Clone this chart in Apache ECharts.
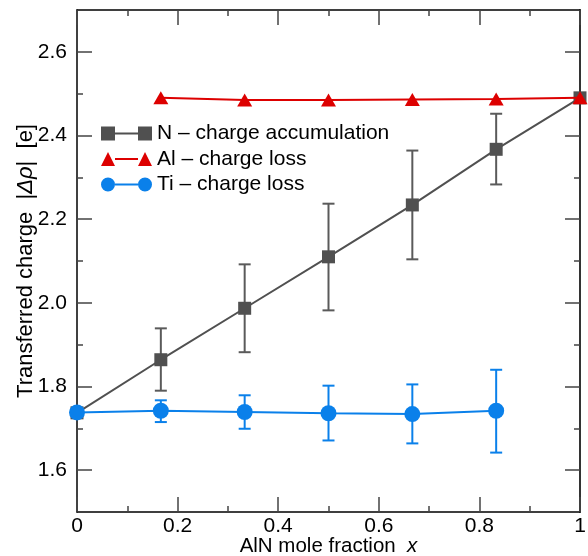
<!DOCTYPE html>
<html>
<head>
<meta charset="utf-8">
<script src="https://cdn.jsdelivr.net/npm/echarts@6/dist/echarts.min.js"></script>
<style>
  html, body { margin: 0; padding: 0; background: #fff; }
  #chart { width: 588px; height: 556px; }
</style>
</head>
<body>
<div id="chart"></div>
<script>
// AlN mole fraction x in Ti(1-x)Al(x)N
const fraction = [0, 1/6, 2/6, 3/6, 4/6, 5/6, 1];

// N - charge accumulation
const nCharge  = [1.737, 1.864, 1.987, 2.110, 2.234, 2.367, 2.490];
const nErrLow  = [null, 1.790, 1.882, 1.982, 2.104, 2.283, null];
const nErrHigh = [null, 1.939, 2.092, 2.237, 2.364, 2.452, null];

// Al - charge loss
const alCharge = [null, 2.490, 2.485, 2.485, 2.486, 2.487, 2.490];

// Ti - charge loss
const tiCharge  = [1.738, 1.742, 1.739, 1.736, 1.734, 1.742, null];
const tiErrLow  = [null, 1.715, 1.699, 1.671, 1.664, 1.642, null];
const tiErrHigh = [null, 1.767, 1.779, 1.802, 1.805, 1.840, null];

// Axis ticks
const xTickLabels = ['0', '0.2', '0.4', '0.6', '0.8', '1'];
const yMajor = [1.6, 1.8, 2.0, 2.2, 2.4, 2.6];
const yMinor = [1.7, 1.9, 2.1, 2.3, 2.5];

const FONT = "'Liberation Sans', Arial, Helvetica, sans-serif";
const C_N = '#505050', C_AL = '#dd0000', C_TI = '#0a80ea';

function pairs(ys) {
  const out = [];
  ys.forEach((y, i) => { if (y !== null) out.push([fraction[i], y]); });
  return out;
}
function errs(lo, hi) {
  const out = [];
  lo.forEach((l, i) => { if (l !== null && hi[i] !== null) out.push([fraction[i], l, hi[i]]); });
  return out;
}
function errorBars(color) {
  return function (params, api) {
    const x = api.value(0);
    const lo = api.coord([x, api.value(1)]);
    const hi = api.coord([x, api.value(2)]);
    const hw = 6;
    const style = { stroke: color, lineWidth: 2, fill: null };
    return {
      type: 'group',
      children: [
        { type: 'line', shape: { x1: lo[0], y1: lo[1], x2: hi[0], y2: hi[1] }, style },
        { type: 'line', shape: { x1: lo[0] - hw, y1: lo[1], x2: lo[0] + hw, y2: lo[1] }, style },
        { type: 'line', shape: { x1: hi[0] - hw, y1: hi[1], x2: hi[0] + hw, y2: hi[1] }, style }
      ]
    };
  };
}

const tickStyle = { color: '#444', width: 1.5 };
const chart = echarts.init(document.getElementById('chart'));

chart.setOption({
  animation: false,
  backgroundColor: '#fff',
  textStyle: { fontFamily: FONT },
  grid: { left: 77, right: 8, top: 10, bottom: 44, containLabel: false, outerBoundsMode: 'none' },
  legend: {
    orient: 'vertical',
    left: 101,
    top: 123,
    padding: 0,
    itemWidth: 51,
    itemHeight: 14,
    itemGap: 4.5,
    textStyle: { fontFamily: FONT, fontSize: 21, color: '#000' },
    data: [
      { name: 'N – charge accumulation',
        icon: 'path://M0,0h14v14h-14z M14,6h23v2h-23z M37,0h14v14h-14z' },
      { name: 'Al – charge loss',
        icon: 'path://M0,14L7,0L14,14z M14,6h23v2h-23z M37,14L44,0L51,14z' },
      { name: 'Ti – charge loss',
        icon: 'path://M0,7a7,7 0 1,0 14,0a7,7 0 1,0 -14,0z M14,6h23v2h-23z M37,7a7,7 0 1,0 14,0a7,7 0 1,0 -14,0z' }
    ]
  },
  xAxis: [
    {
      type: 'value', position: 'bottom', min: 0, max: 1, interval: 0.2,
      axisLine: { show: true, lineStyle: { color: '#000', width: 1.5 } },
      axisTick: { show: true, inside: true, length: 15, lineStyle: tickStyle },
      minorTick: { show: true, splitNumber: 2, length: 6, lineStyle: tickStyle },
      splitLine: { show: false },
      axisLabel: {
        fontSize: 21, color: '#000', margin: 4, fontFamily: FONT,
        formatter: (v, i) => xTickLabels[i]
      },
      name: '{n|AlN mole fraction  }{i|x}',
      nameLocation: 'middle',
      nameMoveOverlap: false,
      nameGap: 24,
      nameTextStyle: {
        rich: {
          n: { fontSize: 20.5, color: '#000', fontFamily: FONT },
          i: { fontSize: 20.5, color: '#000', fontFamily: FONT, fontStyle: 'italic' }
        }
      }
    },
    {
      type: 'value', position: 'top', min: 0, max: 1, interval: 0.2,
      axisLine: { show: true, lineStyle: { color: '#000', width: 1.5 } },
      axisTick: { show: true, inside: true, length: 15, lineStyle: tickStyle },
      minorTick: { show: true, splitNumber: 2, length: 6, lineStyle: tickStyle },
      splitLine: { show: false },
      axisLabel: { show: false }
    }
  ],
  yAxis: [
    {
      type: 'value', position: 'left', min: 1.5, max: 2.7,
      axisLine: { show: true, lineStyle: { color: '#000', width: 1.5 } },
      axisTick: { show: true, inside: true, length: 15, customValues: yMajor, lineStyle: tickStyle },
      splitLine: { show: false },
      axisLabel: {
        customValues: yMajor,
        fontSize: 21, color: '#000', margin: 10, fontFamily: FONT,
        formatter: v => v.toFixed(1)
      },
      name: '{n|Transferred charge  |}{i|Δρ}{n||  [e]}',
      nameLocation: 'middle',
      nameRotate: 90,
      nameMoveOverlap: false,
      nameGap: 40,
      nameTextStyle: {
        rich: {
          n: { fontSize: 22, color: '#000', fontFamily: FONT },
          i: { fontSize: 22, color: '#000', fontFamily: FONT, fontStyle: 'italic' }
        }
      }
    },
    {
      type: 'value', position: 'left', min: 1.5, max: 2.7,
      axisLine: { show: false },
      axisTick: { show: true, inside: true, length: 6, customValues: yMinor, lineStyle: tickStyle },
      splitLine: { show: false },
      axisLabel: { show: false }
    },
    {
      type: 'value', position: 'right', min: 1.5, max: 2.7,
      axisLine: { show: true, lineStyle: { color: '#333', width: 2 } },
      axisTick: { show: true, inside: true, length: 15, customValues: yMajor, lineStyle: tickStyle },
      splitLine: { show: false },
      axisLabel: { show: false }
    },
    {
      type: 'value', position: 'right', min: 1.5, max: 2.7,
      axisLine: { show: false },
      axisTick: { show: true, inside: true, length: 6, customValues: yMinor, lineStyle: tickStyle },
      splitLine: { show: false },
      axisLabel: { show: false }
    }
  ],
  series: [
    {
      name: 'N error', type: 'custom', z: 2,
      renderItem: errorBars('#5a5a5a'),
      data: errs(nErrLow, nErrHigh)
    },
    {
      name: 'N – charge accumulation', type: 'line', z: 3,
      data: pairs(nCharge),
      symbol: 'rect', symbolSize: 13,
      itemStyle: { color: C_N },
      lineStyle: { color: C_N, width: 2 }
    },
    {
      name: 'Al – charge loss', type: 'line', z: 4,
      data: pairs(alCharge),
      symbol: 'triangle', symbolSize: [15, 13],
      itemStyle: { color: C_AL },
      lineStyle: { color: C_AL, width: 2 }
    },
    {
      name: 'Ti error', type: 'custom', z: 5,
      renderItem: errorBars(C_TI),
      data: errs(tiErrLow, tiErrHigh)
    },
    {
      name: 'Ti – charge loss', type: 'line', z: 6,
      data: pairs(tiCharge),
      symbol: 'circle', symbolSize: 16,
      itemStyle: { color: C_TI },
      lineStyle: { color: C_TI, width: 2 }
    }
  ]
});
</script>
</body>
</html>
